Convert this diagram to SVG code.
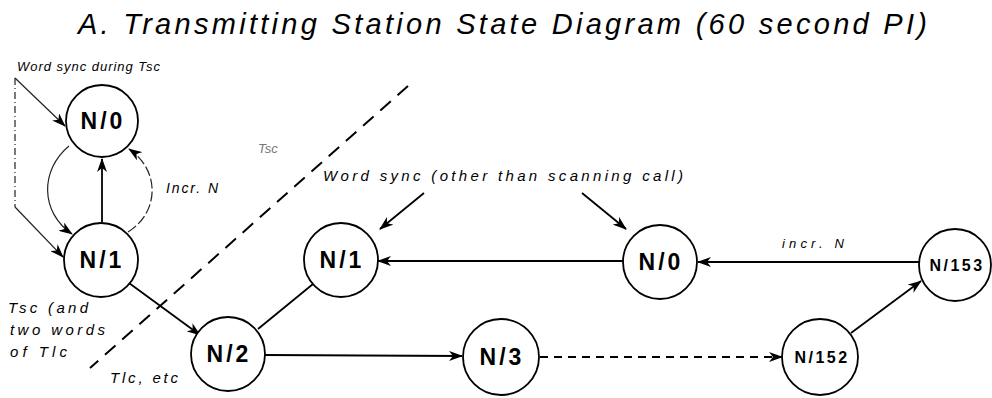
<svg xmlns="http://www.w3.org/2000/svg" width="992" height="398" viewBox="0 0 992 398">
<style>
  .node circle { fill: #fff; stroke: #000; stroke-width: 1.8; }
  .nl { font-family: "Liberation Sans", Arial, sans-serif; font-weight: bold; font-size: 23px; letter-spacing: 3px; text-anchor: middle; fill: #000; }
  .ns { font-family: "Liberation Sans", Arial, sans-serif; font-weight: bold; font-size: 16px; letter-spacing: 2.5px; text-anchor: middle; fill: #000; }
  .lab { font-family: "Liberation Sans", Arial, sans-serif; font-style: italic; font-size: 14px; fill: #000; }
  .title { font-family: "Liberation Sans", Arial, sans-serif; font-style: italic; font-size: 29px; fill: #000; }
  .c { fill: none; stroke: #000; stroke-width: 1.8; }
  .thin { fill: none; stroke: #222; stroke-width: 1.2; }
  .dash { fill: none; stroke: #000; stroke-width: 1.8; stroke-dasharray: 8 6; }
  .bound { fill: none; stroke: #000; stroke-width: 2; stroke-dasharray: 14 9; }
</style>
<defs>
  <marker id="ah" viewBox="0 0 14 10" refX="13" refY="5" markerWidth="14" markerHeight="10" markerUnits="userSpaceOnUse" orient="auto">
    <path d="M0,0 L14,5 L0,10 L4,5 z" fill="#000"/>
  </marker>
</defs>
<rect width="992" height="398" fill="#fff"/>

<text class="title" x="78" y="34" textLength="849" lengthAdjust="spacing">A. Transmitting Station State Diagram (60 second PI)</text>

<g id="connectors">
  <!-- word sync during Tsc -->
  <path class="thin" d="M15,78 L15,207" stroke-dasharray="7 3 1 3"/>
  <path class="thin" d="M15,78 L65,126" marker-end="url(#ah)"/>
  <path class="thin" d="M15,207 L63,257" marker-end="url(#ah)"/>
  <!-- left loop N/0 -> N/1 -->
  <path class="thin" d="M69,146 C 40,170 40,212 72,234" marker-end="url(#ah)"/>
  <!-- N/1 -> N/0 -->
  <path class="c" d="M102,222 L102,159" marker-end="url(#ah)"/>
  <!-- right loop N/1 -> N/0 (Incr. N) -->
  <path class="thin" d="M128,232 C 160,212 160,170 129,149" stroke-dasharray="10 3" marker-end="url(#ah)"/>
  <!-- N/1 -> N/2 -->
  <path class="c" d="M129,283 L200,335" marker-end="url(#ah)"/>
  <!-- N/2 - N/1 -->
  <path class="c" d="M258,329 L313,284"/>
  <!-- N/2 -> N/3 -->
  <path class="c" d="M265,355 L462,356" marker-end="url(#ah)"/>
  <!-- N/3 -> N/152 -->
  <path class="dash" d="M540,357 L782,357" marker-end="url(#ah)"/>
  <!-- N/152 -> N/153 -->
  <path class="c" d="M851,333 L921,281" marker-end="url(#ah)"/>
  <!-- N/153 -> N/0 -->
  <path class="c" d="M919,262 L698,262" marker-end="url(#ah)"/>
  <!-- N/0 -> N/1 -->
  <path class="c" d="M623,261 L378,261" marker-end="url(#ah)"/>
  <!-- word sync arrows -->
  <path class="c" d="M424,193 L380,229" marker-end="url(#ah)"/>
  <path class="c" d="M582,193 L626,229" marker-end="url(#ah)"/>
  <!-- boundary -->
  <path class="bound" d="M408,86 L90,368"/>
</g>

<g id="n0a" class="node"><circle cx="102" cy="121" r="36"/><text class="nl" x="103" y="129">N/0</text></g>
<g id="n1a" class="node"><circle cx="101" cy="260" r="37"/><text class="nl" x="102" y="268">N/1</text></g>
<g id="n2" class="node"><circle cx="228" cy="354" r="37"/><text class="nl" x="229" y="362">N/2</text></g>
<g id="n1b" class="node"><circle cx="341" cy="260" r="37"/><text class="nl" x="342" y="268">N/1</text></g>
<g id="n0b" class="node"><circle cx="660" cy="262" r="37"/><text class="nl" x="661" y="270">N/0</text></g>
<g id="n3" class="node"><circle cx="501" cy="357" r="38"/><text class="nl" x="502" y="365">N/3</text></g>
<g id="n152" class="node"><circle cx="820" cy="357" r="38"/><text class="ns" x="822" y="363">N/152</text></g>
<g id="n153" class="node"><circle cx="955" cy="265" r="36"/><text class="ns" x="957" y="271">N/153</text></g>

<g id="labels">
  <text class="lab" x="17" y="71" font-size="13" style="font-size:13px" textLength="143" lengthAdjust="spacing">Word sync during Tsc</text>
  <text class="lab" x="258" y="153" style="font-size:13px;fill:#777">Tsc</text>
  <text class="lab" x="166" y="193" textLength="52" lengthAdjust="spacing">Incr. N</text>
  <text class="lab" x="323" y="181" style="font-size:15px" textLength="360" lengthAdjust="spacing">Word sync (other than scanning call)</text>
  <text class="lab" x="782" y="248" style="font-size:13px" textLength="62" lengthAdjust="spacing">incr. N</text>
  <text class="lab" x="8" y="313" style="font-size:15px" textLength="80" lengthAdjust="spacing">Tsc (and</text>
  <text class="lab" x="10" y="335" style="font-size:15px" textLength="95" lengthAdjust="spacing">two words</text>
  <text class="lab" x="10" y="357" style="font-size:15px" textLength="57" lengthAdjust="spacing">of Tlc</text>
  <text class="lab" x="110" y="383" style="font-size:15px" textLength="68" lengthAdjust="spacing">Tlc, etc</text>
</g>
</svg>
